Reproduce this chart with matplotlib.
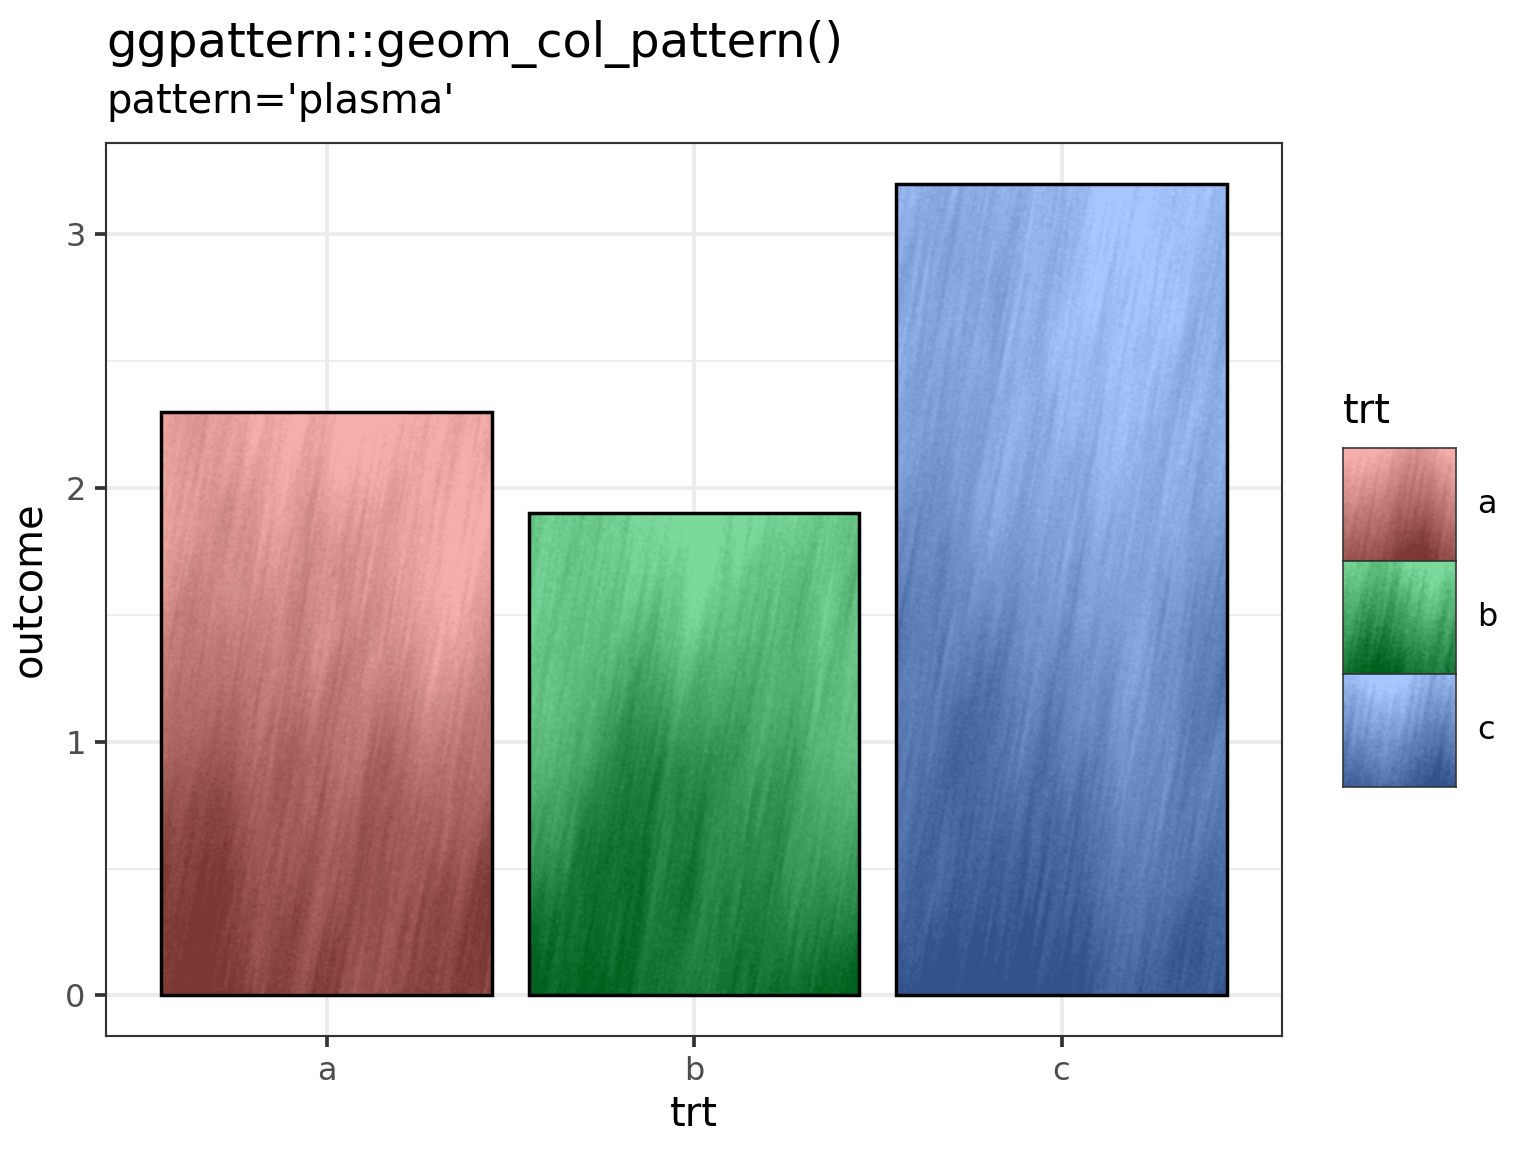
import numpy as np
import matplotlib
matplotlib.use("Agg")
from matplotlib import pyplot as plt
from matplotlib.colors import to_rgb

trt = ['a', 'b', 'c']
outcome = [2.3, 1.9, 3.2]
light_cols = ['#F6AEAB', '#7BDA9B', '#A7C7FF']
dark_cols = ['#7B3832', '#00601E', '#32528B']


def streak_noise(h, w, seed):
    # blurred noise with faint streaks slanted like "/" plus soft blobs and grain
    rng = np.random.default_rng(seed)
    ky = np.fft.fftfreq(h)[:, None]
    kx = np.fft.fftfreq(w)[None, :]
    ang = np.deg2rad(10)
    ka = -kx * np.sin(ang) + ky * np.cos(ang)
    kc = kx * np.cos(ang) + ky * np.sin(ang)
    out = np.zeros((h, w))
    for s_along, s_cross, amp in [(1.0, 1.0, 0.25), (25, 1.5, 0.35),
                                  (60, 8, 0.45), (110, 45, 1.0)]:
        F = np.fft.fft2(rng.standard_normal((h, w)))
        filt = np.exp(-2 * np.pi**2 * ((ka * s_along)**2 + (kc * s_cross)**2))
        f = np.real(np.fft.ifft2(F * filt))
        f = (f - f.mean()) / (f.std() + 1e-9)
        out += amp * f
    return out / out.std()


def texture(h, w, c_top, c_bot, seed):
    t = np.linspace(0, 1, h)[:, None] * np.ones((1, w))
    v = np.clip(0.04 + 0.86 * t + 0.11 * streak_noise(h, w, seed), 0, 1)
    a = np.array(to_rgb(c_top))
    b = np.array(to_rgb(c_bot))
    return a[None, None, :] * (1 - v[..., None]) + b[None, None, :] * v[..., None]


fig = plt.figure(figsize=(8, 6), dpi=192)
ax = fig.add_axes([106/1536, 1 - 1036/1152, (1282-106)/1536, (1036-143)/1152])

x = np.arange(1, len(trt) + 1)
width = 0.9

for i, (xi, yv) in enumerate(zip(x, outcome)):
    hpx = int(yv * 254)
    img = texture(hpx, 331, light_cols[i], dark_cols[i], seed=10 + i)
    ax.imshow(img, extent=(xi - width/2, xi + width/2, 0, yv), origin='upper',
              aspect='auto', interpolation='bilinear', zorder=2)
    ax.bar(xi, yv, width=width, facecolor='none', edgecolor='black',
           linewidth=1.3, zorder=3)
ax.set_xlim(0.4, 3.6)
ax.set_ylim(-0.16, 3.36)
ax.set_aspect('auto')

ax.set_yticks([0, 1, 2, 3])
ax.set_yticks([0.5, 1.5, 2.5], minor=True)
ax.set_xticks(x)
ax.set_xticklabels(trt)
ax.grid(True, which='major', color='#EBEBEB', linewidth=1.4, zorder=0)
ax.grid(True, which='minor', axis='y', color='#EBEBEB', linewidth=0.7, zorder=0)
ax.set_axisbelow(True)
ax.tick_params(which='major', length=4.1, width=1.4, color='#333333',
               labelsize=12, labelcolor='#4D4D4D', pad=3.5)
ax.tick_params(which='minor', length=0)
for sp in ax.spines.values():
    sp.set_color('#333333')
    sp.set_linewidth(0.8)
ax.set_xlabel('trt', fontsize=15, labelpad=3)
ax.set_ylabel('outcome', fontsize=15, labelpad=6)

fig.text(106/1536, 1 - 57/1152, 'ggpattern::geom_col_pattern()', fontsize=18,
         ha='left', va='baseline')
fig.text(106/1536, 1 - 113/1152, "pattern='plasma'", fontsize=15,
         ha='left', va='baseline')

# legend
fig.text(1343/1536, 1 - 423/1152, 'trt', fontsize=15, ha='left', va='baseline')
key_top = 448
key_h = 113
for i, lab in enumerate(trt):
    y0 = key_top + i * key_h
    kax = fig.add_axes([1343/1536, 1 - (y0 + key_h)/1152, 113/1536, key_h/1152])
    kax.imshow(texture(113, 113, light_cols[i], dark_cols[i], seed=30 + i),
               aspect='auto', interpolation='bilinear')
    kax.set_xticks([])
    kax.set_yticks([])
    for sp in kax.spines.values():
        sp.set_color('#333333')
        sp.set_linewidth(0.6)
    fig.text(1477/1536, 1 - (y0 + key_h/2)/1152, lab, fontsize=12,
             ha='left', va='center')

fig.savefig('out.png', dpi=192)
